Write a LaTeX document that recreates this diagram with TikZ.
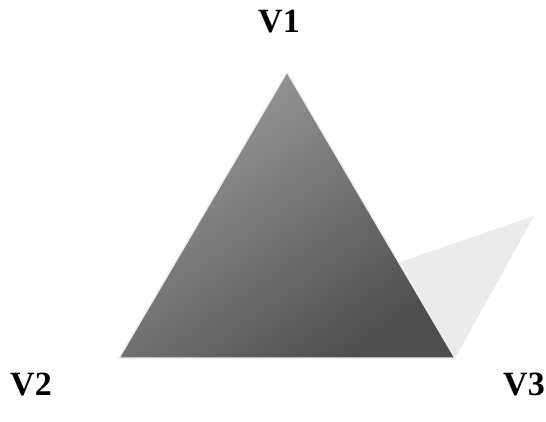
\documentclass[tikz,border=0pt]{standalone}
\usepackage{fontspec}
\setmainfont{Liberation Serif}
\definecolor{facelight}{HTML}{9C9C9C}
\definecolor{facedark}{HTML}{4E4E4E}
\definecolor{shadowgray}{HTML}{EBEBEB}
\definecolor{rimgray}{HTML}{EEEEEE}
\tikzset{
  vlabel/.style={font=\fontsize{34}{40}\selectfont\bfseries, inner sep=0pt}
}
\begin{document}
\begin{tikzpicture}[x=1pt, y=-1pt]
  \useasboundingbox (0,0) rectangle (546,421);
  % corners of the triangle
  \coordinate (v1) at (287,72);
  \coordinate (v2) at (119,358);
  \coordinate (v3) at (455,358);
  \coordinate (s1) at (400,262);
  \coordinate (s2) at (534,216);
  % cast shadow behind the face
  \fill[shadowgray] (s1) -- (s2) -- (v3) -- cycle;
  % shaded face, light toward top-left
  \shade[top color=facelight, bottom color=facedark, shading angle=35]
    (v1) -- (v2) -- (v3) -- cycle;
  \draw[rimgray, line width=1.5pt, line join=miter] (v1) -- (v2) -- (v3) -- cycle;
  % vertex labels
  \node[vlabel] (l1) at (279,22) {V1};
  \node[vlabel] (l2) at (31,384) {V2};
  \node[vlabel] (l3) at (524,384) {V3};
\end{tikzpicture}
\end{document}
